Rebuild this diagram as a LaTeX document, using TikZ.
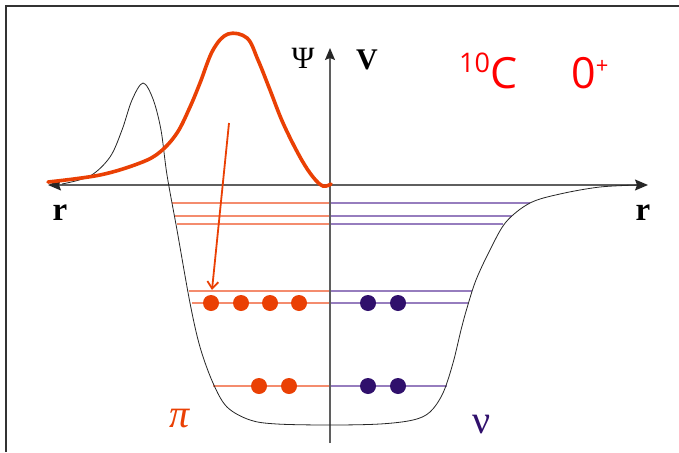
\documentclass[tikz,border=0pt]{standalone}
\usepackage{fontspec}
\setmainfont{Liberation Serif}
\newfontfamily\labelsans{Open Sans}
\usetikzlibrary{arrows.meta}
\definecolor{piorange}{RGB}{234,64,4}
\definecolor{pilevel}{RGB}{244,140,110}
\definecolor{nulevel}{RGB}{150,125,190}
\definecolor{nudot}{RGB}{48,16,108}
\definecolor{axisgray}{RGB}{95,95,95}
\definecolor{framegray}{RGB}{50,50,50}
\tikzset{
  axistip/.tip={Stealth[length=13pt,width=11pt,inset=2pt,color=black!85]},
  vtip/.tip={Stealth[length=12pt,width=10pt,inset=2pt,color=black!85]}
}
\begin{document}
\begin{tikzpicture}[x=1pt,y=-1pt,
  axisline/.style={axisgray, line width=1.2pt},
  pilev/.style={pilevel, line width=1.5pt},
  nulev/.style={nulevel, line width=1.5pt},
  pidot/.style={circle, fill=piorange, inner sep=0pt, minimum size=16pt},
  nudotst/.style={circle, fill=nudot, inner sep=0pt, minimum size=16pt},
  serlab/.style={inner sep=0pt, anchor=base}
]
\useasboundingbox (0,0) rectangle (679,452);
\fill[white] (0,0) rectangle (679,452);
% frame
\coordinate (fb) at (6,452);
\coordinate (fc) at (6,6);
\coordinate (fr) at (679,6);
\draw[line width=1.3pt, framegray] (fb) -- (fc) -- (fr);
% energy levels
\foreach \y/\l/\r [count=\i] in {203/172/530, 216/175/512, 224/177/503, 291/189/472, 303/192/468, 386/213/447} {
  \coordinate (L\i) at (\l,\y);
  \coordinate (M\i) at (330,\y);
  \coordinate (R\i) at (\r,\y);
  \draw[pilev] (L\i) -- (M\i);
  \draw[nulev] (M\i) -- (R\i);
}
% axes
\coordinate (xl) at (48,185);
\coordinate (xr) at (648,185);
\coordinate (yb) at (330,443);
\coordinate (yt) at (330,48);
\draw[axisline, axistip-axistip] (xl) -- (xr);
\draw[axisline, -vtip] (yb) -- (yt);
% potential
\draw[black!85, line width=0.8pt] plot[smooth, tension=0.55] coordinates {
  (62,184) (90,176) (110,157) (122,130) (132,100) (143,83) (153,99) (161,130)
  (167,175) (177,230) (190,303) (200,347) (213,383) (227,407) (250,420) (277,424) (330,425)
  (380,424) (413,420) (430,412) (443,393) (453,363) (461,330) (467,308) (476,280)
  (490,250) (506,222) (530,203) (560,194) (600,187) (640,185)};
% wave function
\draw[piorange, line width=3.6pt, line cap=round] plot[smooth, tension=0.6] coordinates {
  (48,182) (100,175) (140,163) (160,152) (177,133) (190,107) (200,83) (213,50)
  (228,34) (247,38) (258,60) (270,90) (283,123) (300,157) (313,177) (323,186) (331,184)};
% arrow
\coordinate (as) at (229,123);
\coordinate (ae) at (212,290);
\draw[piorange, line width=1.8pt, -{Straight Barb[length=7pt,width=11pt]}] (as) -- (ae);
% nucleons
\foreach \x [count=\i] in {211,241,270,299} \node[pidot] (pa\i) at (\x,303) {};
\node[pidot] (pb1) at (259,386) {};
\node[pidot] (pb2) at (289,386) {};
\node[nudotst] (na1) at (368,303) {};
\node[nudotst] (na2) at (398,303) {};
\node[nudotst] (nb1) at (368,386) {};
\node[nudotst] (nb2) at (398,386) {};
% labels
\node[serlab] (psi) at (303,68) {\fontsize{31}{31}\selectfont Ψ};
\node[serlab] (vlab) at (367,70) {\fontsize{30}{30}\selectfont\bfseries V};
\node[serlab] (rl) at (60,220) {\fontsize{33}{33}\selectfont\bfseries r};
\node[serlab] (rr) at (643,220) {\fontsize{33}{33}\selectfont\bfseries r};
\node[serlab, text=piorange] (pilab) at (180,427) {\fontsize{40}{40}\selectfont\itshape π};
\node[serlab, text=nudot] (nulab) at (482,433) {\fontsize{40}{40}\selectfont ν};
\node[inner sep=0pt, anchor=base west, text=red] (nuc) at (459,88)
  {\labelsans\raisebox{16pt}{\fontsize{27}{27}\selectfont 10}\fontsize{43}{43}\selectfont C};
\node[inner sep=0pt, anchor=base west, text=red] (spin) at (571,88)
  {\labelsans\fontsize{43}{43}\selectfont 0\raisebox{15pt}{\fontsize{22}{22}\selectfont +}};
\end{tikzpicture}
\end{document}
